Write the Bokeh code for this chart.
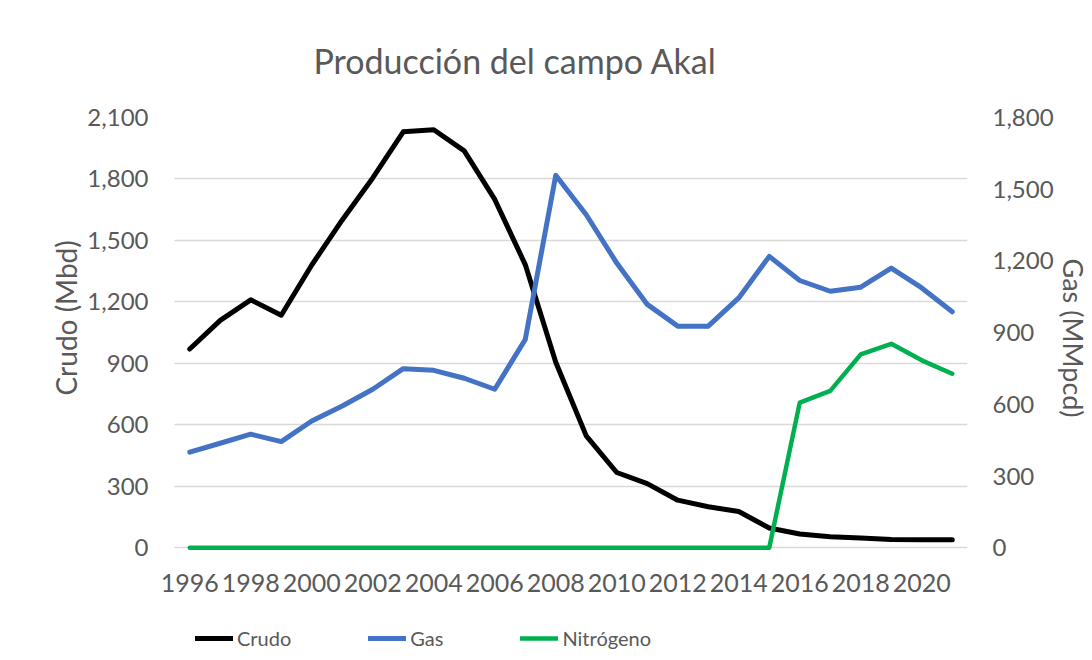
from bokeh.plotting import figure
from bokeh.models import (Range1d, LinearAxis, FixedTicker, NumeralTickFormatter,
                          Legend, LegendItem, BoxAnnotation, Title)
from bokeh.embed import file_html
from bokeh.resources import INLINE

# ---- data ----
years = [1996, 1997, 1998, 1999, 2000, 2001, 2002, 2003, 2004, 2005, 2006, 2007, 2008,
         2009, 2010, 2011, 2012, 2013, 2014, 2015, 2016, 2017, 2018, 2019, 2020, 2021]
crudo = [970, 1110, 1210, 1135, 1380, 1600, 1805, 2030, 2040, 1937, 1700, 1382, 905,
         546, 367, 313, 232, 200, 177, 96, 67, 54, 47, 40, 39, 39]
gas = [400, 437, 475, 444, 530, 593, 663, 749, 742, 709, 663, 871, 1558,
       1393, 1191, 1018, 927, 927, 1045, 1219, 1118, 1073, 1090, 1170, 1087, 987]
nitrogeno = [0, 0, 0, 0, 0, 0, 0, 0, 0, 0, 0, 0, 0,
             0, 0, 0, 0, 0, 0, 0, 607, 656, 809, 853, 784, 728]

x_ticks = [1996, 1998, 2000, 2002, 2004, 2006, 2008, 2010, 2012, 2014, 2016, 2018, 2020]
x_labels = ["1996", "1998", "2000", "2002", "2004", "2006", "2008", "2010", "2012",
            "2014", "2016", "2018", "2020"]
crudo_ticks = [0, 300, 600, 900, 1200, 1500, 1800, 2100]
gas_ticks = [0, 300, 600, 900, 1200, 1500, 1800]

title_text = "Producción del campo Akal"
series_names = ["Crudo", "Gas", "Nitrógeno"]
left_label = "Crudo (Mbd)"
right_label = "Gas (MMpcd)"

# ---- layout (pixels) ----
W, H = 1092, 660
PLOT_L, PLOT_R, FRAME_T = 174, 967, 116   # visible plot area (gridlines)
FRAME_L = 150                              # frame starts a bit further left for the first tick label
ZERO_Y = 547                               # screen row of the value 0
FRAME_B = H                                # frame runs to the bottom so the legend fits inside it
ext = (FRAME_B - ZERO_Y) / (ZERO_Y - FRAME_T)
X0, X1 = 1995.5, 2021.5                    # category edges
px_per_year = (PLOT_R - PLOT_L) / (X1 - X0)
x_start = X0 - (PLOT_L - FRAME_L) / px_per_year

# ---- style ----
FONT = "Lato"
TXT = "#595959"
GRID = "#d9d9d9"
C_CRUDO = "#000000"
C_GAS = "#4472C4"
C_N2 = "#00B050"

p = figure(width=W, height=H, output_backend="svg", toolbar_location=None,
           x_range=Range1d(x_start, X1),
           y_range=Range1d(-ext * crudo_ticks[-1], crudo_ticks[-1]),
           min_border_left=FRAME_L, min_border_right=W - PLOT_R,
           min_border_top=FRAME_T, min_border_bottom=0)
p.extra_y_ranges = {"gas": Range1d(-ext * gas_ticks[-1], gas_ticks[-1])}
p.outline_line_color = None
p.background_fill_color = "white"
p.border_fill_color = "white"

p.title.text = title_text
p.title.text_font = FONT
p.title.text_font_size = "34px"
p.title.text_font_style = "normal"
p.title.text_color = TXT
p.title.align = "left"
p.title.offset = 313 - FRAME_L
p.title.standoff = 74

p.xgrid.visible = False
p.ygrid.ticker = FixedTicker(ticks=crudo_ticks)
p.ygrid.grid_line_color = GRID
p.ygrid.grid_line_width = 1.5
# keep gridlines inside the category area
p.add_layout(BoxAnnotation(right=X0, fill_color="white", fill_alpha=1.0,
                           line_color=None, level="underlay"))

# x axis drawn at value 0
xa = p.xaxis[0]
xa.fixed_location = 0
xa.ticker = FixedTicker(ticks=x_ticks)
xa.major_label_overrides = {t: l for t, l in zip(x_ticks, x_labels)}
xa.axis_line_color = None
xa.major_tick_line_color = None
xa.minor_tick_line_color = None
xa.major_tick_out = 0
xa.major_tick_in = 0
xa.major_label_standoff = 26
xa.major_label_text_font = FONT
xa.major_label_text_font_size = "25px"
xa.major_label_text_color = TXT

# left y axis
ya = p.yaxis[0]
ya.ticker = FixedTicker(ticks=crudo_ticks)
ya.formatter = NumeralTickFormatter(format="0,0")
ya.axis_line_color = None
ya.major_tick_line_color = None
ya.minor_tick_line_color = None
ya.major_tick_out = 0
ya.major_tick_in = 0
ya.major_label_standoff = FRAME_L - 148
ya.major_label_text_font = FONT
ya.major_label_text_font_size = "24px"
ya.major_label_text_color = TXT

# right y axis
yr = LinearAxis(y_range_name="gas", ticker=FixedTicker(ticks=gas_ticks),
                formatter=NumeralTickFormatter(format="0,0"))
yr.axis_line_color = None
yr.major_tick_line_color = None
yr.minor_tick_line_color = None
yr.major_tick_out = 0
yr.major_tick_in = 0
yr.major_label_standoff = 25
yr.major_label_text_font = FONT
yr.major_label_text_font_size = "24px"
yr.major_label_text_color = TXT
p.add_layout(yr, "right")

# axis titles as side titles (so they can be placed along the axis)
p.add_layout(Title(text=left_label, align="left", offset=FRAME_B - 395, standoff=3,
                   text_font=FONT, text_font_size="28px", text_font_style="normal",
                   text_color=TXT), "left")
p.add_layout(Title(text=right_label, align="right", offset=FRAME_B - 417, standoff=0,
                   text_font=FONT, text_font_size="27px", text_font_style="normal",
                   text_color=TXT), "right")

# lines
r1 = p.line(years, crudo, line_color=C_CRUDO, line_width=5, line_join="round", line_cap="round")
r2 = p.line(years, gas, line_color=C_GAS, line_width=5, line_join="round", line_cap="round",
            y_range_name="gas")
r3 = p.line(years, nitrogeno, line_color=C_N2, line_width=4.5, line_join="round",
            line_cap="round", y_range_name="gas")

legend = Legend(items=[LegendItem(label=series_names[0], renderers=[r1]),
                       LegendItem(label=series_names[1], renderers=[r2]),
                       LegendItem(label=series_names[2], renderers=[r3])],
                orientation="horizontal", location=(197 - FRAME_L - 4 + 2, 10), padding=4,
                spacing=77, glyph_width=38, glyph_height=20, label_standoff=4,
                label_text_font=FONT, label_text_font_size="20px",
                label_text_color=TXT, border_line_color=None,
                background_fill_alpha=0, margin=0)
p.add_layout(legend, "center")

open("out.html", "w").write(file_html(p, INLINE))
